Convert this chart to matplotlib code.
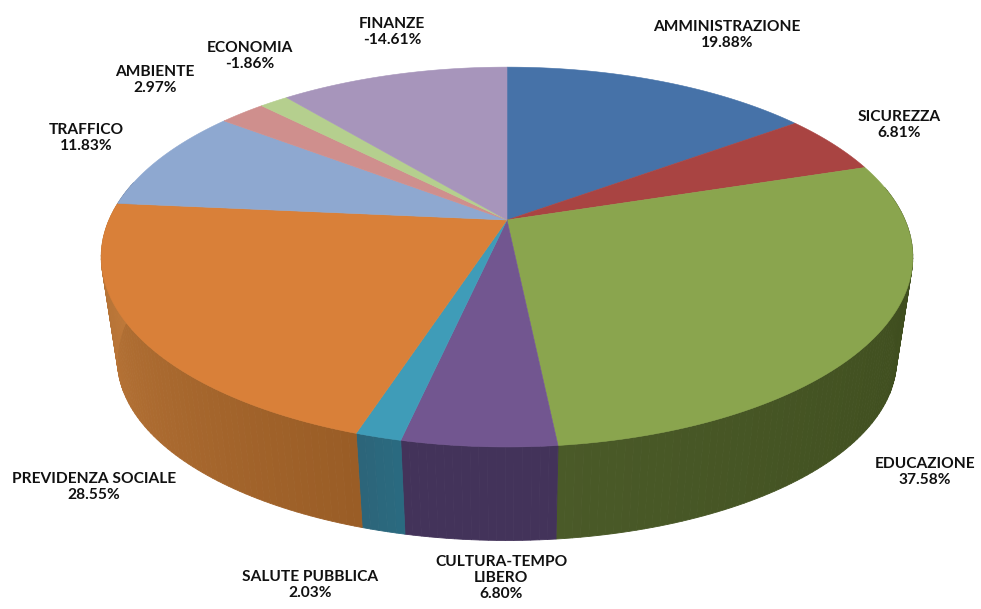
import numpy as np
import matplotlib
matplotlib.use('Agg')
import matplotlib.pyplot as plt
from matplotlib.colors import to_rgb

categorie = ['AMMINISTRAZIONE', 'SICUREZZA', 'EDUCAZIONE', 'CULTURA-TEMPO\nLIBERO', 'SALUTE PUBBLICA',
             'PREVIDENZA SOCIALE', 'TRAFFICO', 'AMBIENTE', 'ECONOMIA', 'FINANZE']
valori = [19.88, 6.81, 37.58, 6.80, 2.03, 28.55, 11.83, 2.97, -1.86, -14.61]
colori = ['#4672a8', '#a94442', '#8aa54e', '#725690', '#3f9cb8',
          '#d98039', '#8ea8d0', '#cf8f8d', '#b5cf8e', '#a795bb']
# colore del bordo laterale: inizio e fine della fetta (senso orario)
lato_inizio = ['#2f4d72', '#6f2d2c', '#3a481a', '#43335a', '#2a6a80',
               '#9a5d26', '#5f7290', '#8c605f', '#7a8c60', '#71657f']
lato_fine = ['#2f4d72', '#6f2d2c', '#4a5a28', '#43335a', '#2d6478',
             '#c07b3c', '#5f7290', '#8c605f', '#7a8c60', '#71657f']

pos_etichette = [(727, 35), (899, 125), (925, 472), (501, 578), (310, 585),
                 (94, 487), (86, 138), (155, 80), (250, 56), (392, 32)]


def proietta(ang, r=1.0):
    # cerchio in prospettiva, angolo in senso orario dall'alto
    u = r * np.sin(ang)
    v = -r * np.cos(ang)
    w = 1 - 0.195 * v
    return 507 + 398 * u / w, 220 + 182.7 * v / w


def proietta_sotto(ang):
    x, y = proietta(ang)
    return 507 + (x - 507) * 0.96, 360 + (y - 257) * 0.95


fig = plt.figure(figsize=(9.81, 6.09), dpi=100)
ax = fig.add_axes([0, 0, 1, 1])
ax.set_xlim(0, 981)
ax.set_ylim(609, 0)
ax.axis('off')

assoluti = np.abs(valori)
bordi = np.concatenate([[0], np.cumsum(assoluti)]) / assoluti.sum() * 2 * np.pi

# bordo laterale a strisce, per la sfumatura
for i in range(len(valori)):
    a0, a1 = bordi[i], bordi[i + 1]
    n = max(int(np.degrees(a1 - a0)), 1)
    tagli = np.linspace(a0, a1, n + 1)
    c0, c1 = np.array(to_rgb(lato_inizio[i])), np.array(to_rgb(lato_fine[i]))
    for j in range(n):
        if np.cos(tagli[j]) > 0.2:
            continue
        xa, ya = proietta(tagli[j:j + 2])
        xb, yb = proietta_sotto(tagli[j:j + 2])
        col = c0 + (c1 - c0) * j / n
        ax.fill(np.r_[xa, xb[::-1]], np.r_[ya, yb[::-1]], color=col, lw=0.6)

# faccia superiore
for i in range(len(valori)):
    archi = np.linspace(bordi[i], bordi[i + 1], 120)
    x, y = proietta(archi)
    cx, cy = proietta(0.0, 0.0)
    ax.fill(np.r_[cx, x], np.r_[cy, y], color=colori[i], lw=0.4)

for nome, val, (px, py) in zip(categorie, valori, pos_etichette):
    ax.text(px, py, f'{nome}\n{val:.2f}%', ha='center', va='center', fontsize=11.2,
            fontweight='bold', family='Lato', color='#111111', linespacing=1.15)

fig.savefig('out.png', dpi=100)
